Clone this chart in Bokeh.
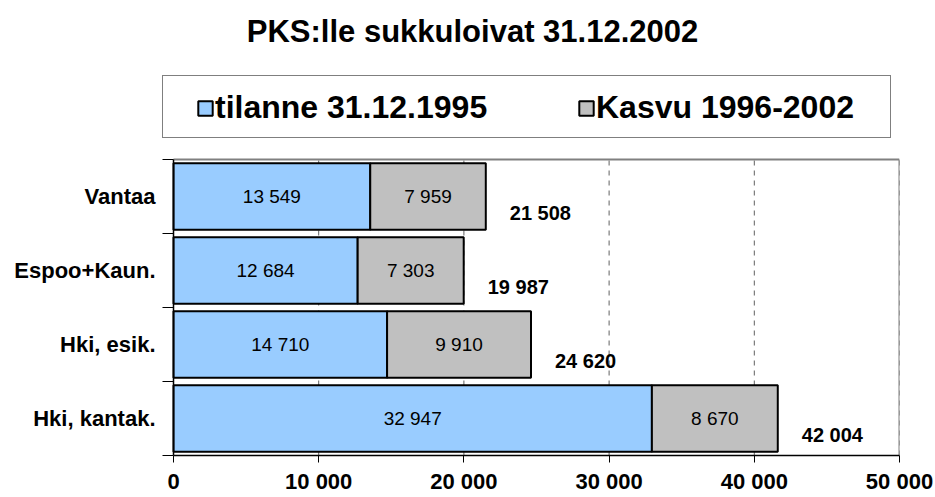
from bokeh.plotting import figure
from bokeh.models import ColumnDataSource, FixedTicker, Legend, LegendItem, Range1d, Label
from bokeh.core.properties import value
from bokeh.embed import file_html
from bokeh.resources import INLINE

# ---- data ----
categories = ["Hki, kantak.", "Hki, esik.", "Espoo+Kaun.", "Vantaa"]   # bottom -> top
base_1995 = [32947, 14710, 12684, 13549]
growth = [8670, 9910, 7303, 7959]
totals = [42004, 24620, 19987, 21508]
x_ticks = [0, 10000, 20000, 30000, 40000, 50000]
x_tick_labels = ["0", "10 000", "20 000", "30 000", "40 000", "50 000"]
series_names = ["tilanne 31.12.1995", "Kasvu 1996-2002"]
title_text = "PKS:lle sukkuloivat 31.12.2002"

FONT = "Liberation Sans"

def fmt(v):
    return f"{v:,}".replace(",", " ")

n = len(categories)
pos = [i + 0.5 for i in range(n)]
ends = [b + g for b, g in zip(base_1995, growth)]
src = ColumnDataSource(dict(
    pos=pos,
    base=base_1995,
    end=ends,
    mid1=[b / 2 for b in base_1995],
    mid2=[b + g / 2 for b, g in zip(base_1995, growth)],
    lab1=[fmt(v) for v in base_1995],
    lab2=[fmt(v) for v in growth],
    labt=[fmt(v) for v in totals],
))

# ---- layout (pixels) ----
W, H = 935, 497
AX_LEFT, AX_RIGHT, AX_TOP, AX_BOTTOM = 173, 899, 159, 455
FRAME_LEFT = 162                      # frame extends left so the legend box fits
xmax = x_ticks[-1]
upp_x = xmax / (AX_RIGHT - AX_LEFT)   # data units per pixel
upp_y = n / (AX_BOTTOM - AX_TOP)

p = figure(width=W, height=H, output_backend="svg", toolbar_location=None,
           x_range=Range1d(-(AX_LEFT - FRAME_LEFT) * upp_x, xmax),
           y_range=Range1d(0, n + AX_TOP * upp_y),
           min_border_left=FRAME_LEFT, min_border_right=W - AX_RIGHT,
           min_border_top=0, min_border_bottom=H - AX_BOTTOM)

p.background_fill_color = "white"
p.border_fill_color = "white"
p.outline_line_color = None
p.xgrid.visible = False
p.ygrid.visible = False

# dashed gridlines (only within the plot area)
p.segment(x0=x_ticks[1:], x1=x_ticks[1:], y0=0, y1=n, line_color="#606060",
          line_dash="5 5", line_width=1, level="underlay")

# bars
r1 = p.hbar(y="pos", left=0, right="base", height=0.9, source=src,
            fill_color="#99CCFF", line_color="black", line_width=2)
r2 = p.hbar(y="pos", left="base", right="end", height=0.9, source=src,
            fill_color="#C0C0C0", line_color="black", line_width=2)

# plot-area border: top and right gray, left (value axis line at 0) black
p.segment(x0=[x_ticks[0], xmax], y0=[n, 0], x1=[xmax, xmax], y1=[n, n],
          line_color="#808080", line_width=2)
p.segment(x0=[x_ticks[0]], y0=[0], x1=[x_ticks[0]], y1=[n],
          line_color="black", line_width=1.5)

# labels
p.text(x="mid1", y="pos", text="lab1", source=src, text_align="center",
       text_baseline="middle", text_font=value(FONT), text_font_size="19px",
       text_color="black")
p.text(x="mid2", y="pos", text="lab2", source=src, text_align="center",
       text_baseline="middle", text_font=value(FONT), text_font_size="19px",
       text_color="black")
p.text(x="end", y="pos", text="labt", source=src, text_align="left",
       text_baseline="middle", x_offset=24, y_offset=16,
       text_font=value(FONT), text_font_size="20px", text_font_style="bold",
       text_color="black")

# title
p.add_layout(Label(x=472 - FRAME_LEFT, y=AX_BOTTOM - 31, x_units="screen", y_units="screen",
                   text=title_text, text_align="center", text_baseline="middle",
                   text_font=FONT, text_font_size="31px", text_font_style="bold",
                   text_color="black"))

# x axis
xa = p.xaxis[0]
xa.bounds = (x_ticks[0], xmax)
xa.ticker = FixedTicker(ticks=x_ticks)
xa.major_label_overrides = {t: l for t, l in zip(x_ticks, x_tick_labels)}
xa.major_tick_out = 7
xa.major_tick_in = 0
xa.minor_tick_out = 0
xa.minor_tick_in = 0
xa.major_label_standoff = 6
xa.axis_line_color = "black"
xa.axis_line_width = 1.5
xa.major_tick_line_color = "black"
xa.major_label_text_font = FONT
xa.major_label_text_font_size = "22px"
xa.major_label_text_font_style = "bold"
xa.major_label_text_color = "black"

# y axis (category labels, boundary ticks)
ya = p.yaxis[0]
ya.bounds = (0, n)
ya.ticker = FixedTicker(ticks=pos, minor_ticks=list(range(n + 1)))
ya.major_label_overrides = {v: c for v, c in zip(pos, categories)}
ya.major_tick_out = 0
ya.major_tick_in = 0
ya.minor_tick_out = 0
ya.minor_tick_in = AX_LEFT - FRAME_LEFT
ya.minor_tick_line_color = "black"
ya.major_label_standoff = 7
ya.axis_line_color = None
ya.major_label_text_font = FONT
ya.major_label_text_font_size = "22px"
ya.major_label_text_font_style = "bold"
ya.major_label_text_color = "black"

# legend box (frame only)
dummy = p.hbar(y=[], left=[], right=[], height=0.1, fill_alpha=0, line_alpha=0)
box = Legend(items=[LegendItem(label=" ", renderers=[dummy])],
             location=(0, AX_BOTTOM - 138), orientation="horizontal", padding=0, margin=0,
             glyph_width=1, glyph_height=1, label_standoff=0,
             label_width=726, label_height=61,
             border_line_color="black", border_line_width=1,
             background_fill_color="white", background_fill_alpha=1)
p.add_layout(box, "center")

legend = Legend(items=[LegendItem(label=series_names[0], renderers=[r1]),
                       LegendItem(label=series_names[1], renderers=[r2])],
                location=(196 - 5 - FRAME_LEFT, AX_BOTTOM - 131), orientation="horizontal",
                padding=5, margin=0,
                glyph_width=18, glyph_height=18, label_standoff=1,
                label_width=300, spacing=62,
                label_text_font=FONT, label_text_font_size="32px",
                label_text_font_style="bold", label_text_color="black",
                border_line_alpha=0, background_fill_alpha=0)
p.add_layout(legend, "center")

open("out.html", "w").write(file_html(p, INLINE))
